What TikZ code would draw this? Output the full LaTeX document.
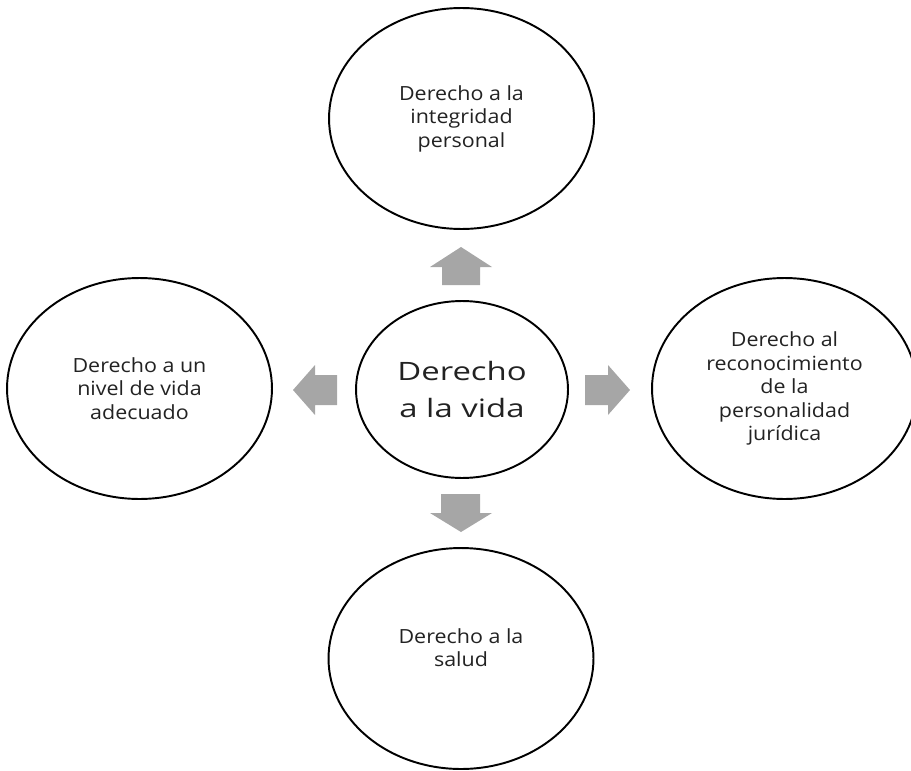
\documentclass[tikz,border=0pt]{standalone}
\usepackage{fontspec}
\setmainfont{Open Sans}[FakeStretch=1.1]
\newfontfamily\vidafont{Open Sans}[FakeStretch=1.3]
\usepackage{xcolor}
\usepackage{tikz}
\usetikzlibrary{shapes.geometric}
\definecolor{flechagris}{HTML}{A6A6A6}
\definecolor{texto}{HTML}{222222}
\tikzset{ derecho/.style = {ellipse, draw, line width=1.1pt, text=texto, align=center, inner sep=0pt, minimum width=5.3cm, minimum height=4.42cm, font=\fontsize{11.1}{13.4}\selectfont} }
\tikzset{ vida/.style = {derecho, minimum width=4.24cm, minimum height=3.54cm, font=\vidafont\fontsize{14.4}{21.6}\selectfont} }
\tikzset{ flecha/.style = {fill=flechagris, draw=none} }

\begin{document}
\begin{tikzpicture}[x=0.02cm, y=-0.02cm]
                \useasboundingbox (0, 0) rectangle (911, 770);
                \node [vida] (V) at (462, 389.5) {Derecho\\a la vida};
                \node [derecho] (I) at (461.5, 118.5) {Derecho a la\\integridad\\personal};
                \node [derecho] (N) at (139.5, 388.5) {Derecho a un\\nivel de vida\\adecuado};
                \node [derecho] (P) at (784.5, 388.5) {Derecho al\\reconocimiento\\de la\\personalidad\\jurídica};
                \node [derecho, text depth=0.44cm] (S) at (461, 658.5) {Derecho a la\\salud};
                % flechas de bloque
                \fill[flecha] (442, 285) -- (442, 267) -- (430, 267) -- (461, 247) -- (492, 267) -- (480, 267) -- (480, 285) -- cycle;
                \fill[flecha] (441, 494) -- (480, 494) -- (480, 513) -- (492, 513) -- (461, 532) -- (430, 513) -- (441, 513) -- cycle;
                \fill[flecha] (337, 375) -- (315, 375) -- (315, 365) -- (293, 390) -- (315, 415) -- (315, 405) -- (337, 405) -- cycle;
                \fill[flecha] (585, 375) -- (608, 375) -- (608, 365) -- (630, 390) -- (608, 415) -- (608, 405) -- (585, 405) -- cycle;
        \end{tikzpicture}
\end{document}
